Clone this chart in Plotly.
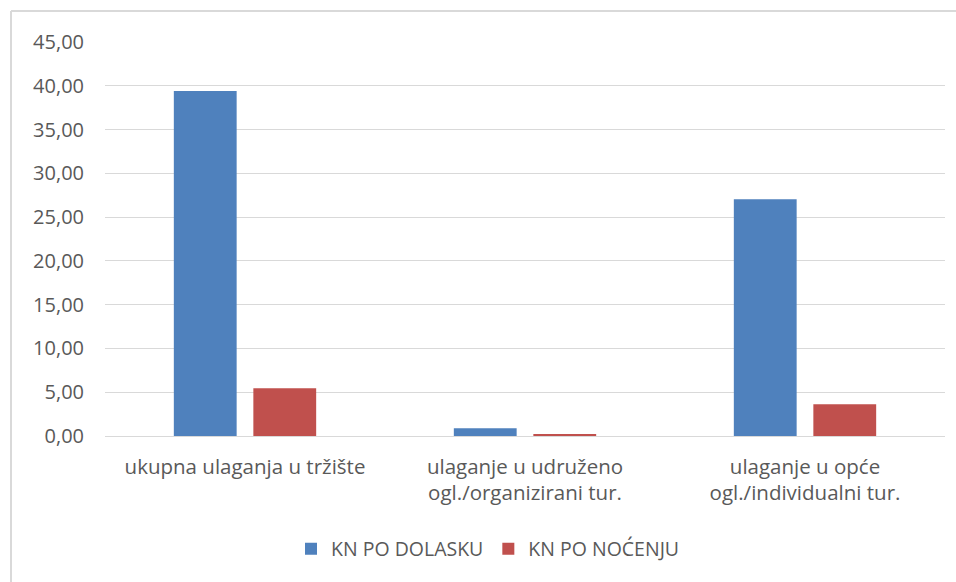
import plotly.graph_objects as go

# Categories (x axis) and the two series, KN per arrival / per overnight stay
categories = [
    "ukupna ulaganja u tržište",
    "ulaganje u udruženo<br>ogl./organizirani tur.",
    "ulaganje u opće<br>ogl./individualni tur.",
]
kn_po_dolasku = [39.40, 0.88, 27.03]
kn_po_nocenju = [5.45, 0.19, 3.62]

y_ticks = [0, 5, 10, 15, 20, 25, 30, 35, 40, 45]

FONT = "Open Sans"
TEXT = "#595959"
GRID = "#d9d9d9"

fig = go.Figure()
fig.add_trace(go.Bar(name="KN PO DOLASKU", x=categories, y=kn_po_dolasku,
                     marker=dict(color="#4F81BD", line=dict(width=0))))
fig.add_trace(go.Bar(name="KN PO NOĆENJU", x=categories, y=kn_po_nocenju,
                     marker=dict(color="#C0504D", line=dict(width=0))))

W, H = 956, 582
L, R, T, B = 105, 11, 42, 146
pw, ph = W - L - R, H - T - B

def px(x):
    return (x - L) / pw

def py(y):
    return (H - B - y) / ph

fig.update_layout(
    width=W, height=H,
    margin=dict(l=L, r=R, t=T, b=B, pad=0),
    paper_bgcolor="white", plot_bgcolor="white",
    separators=", ",
    barmode="group", bargap=0.432, bargroupgap=0.21,
    font=dict(family=FONT, size=19, color=TEXT),
    showlegend=True,
    legend=dict(orientation="h", x=px(488), xanchor="center", y=py(549),
                yanchor="middle", font=dict(family=FONT, size=19.5, color=TEXT),
                itemsizing="constant", traceorder="normal", itemwidth=30),
    xaxis=dict(showgrid=False, showline=True, linecolor=GRID, linewidth=1,
               ticks="", ticklabelstandoff=12,
               tickfont=dict(family=FONT, size=20.5, color=TEXT),
               fixedrange=True),
    yaxis=dict(range=[0, 45], tickvals=y_ticks, tickformat=".2f",
               showgrid=True, gridcolor=GRID, gridwidth=1,
               zeroline=True, zerolinecolor=GRID, zerolinewidth=1,
               showline=False, ticks="", ticklabelstandoff=20,
               tickfont=dict(family=FONT, size=20, color=TEXT),
               fixedrange=True),
    shapes=[
        # chart-area frame along the top and left edges
        dict(type="line", xref="paper", yref="paper",
             x0=px(11), x1=px(W + 20), y0=py(11), y1=py(11),
             line=dict(color=GRID, width=2)),
        dict(type="line", xref="paper", yref="paper",
             x0=px(11), x1=px(11), y0=py(11), y1=py(H + 20),
             line=dict(color=GRID, width=2)),
    ],
)

fig.write_html("out.html")
